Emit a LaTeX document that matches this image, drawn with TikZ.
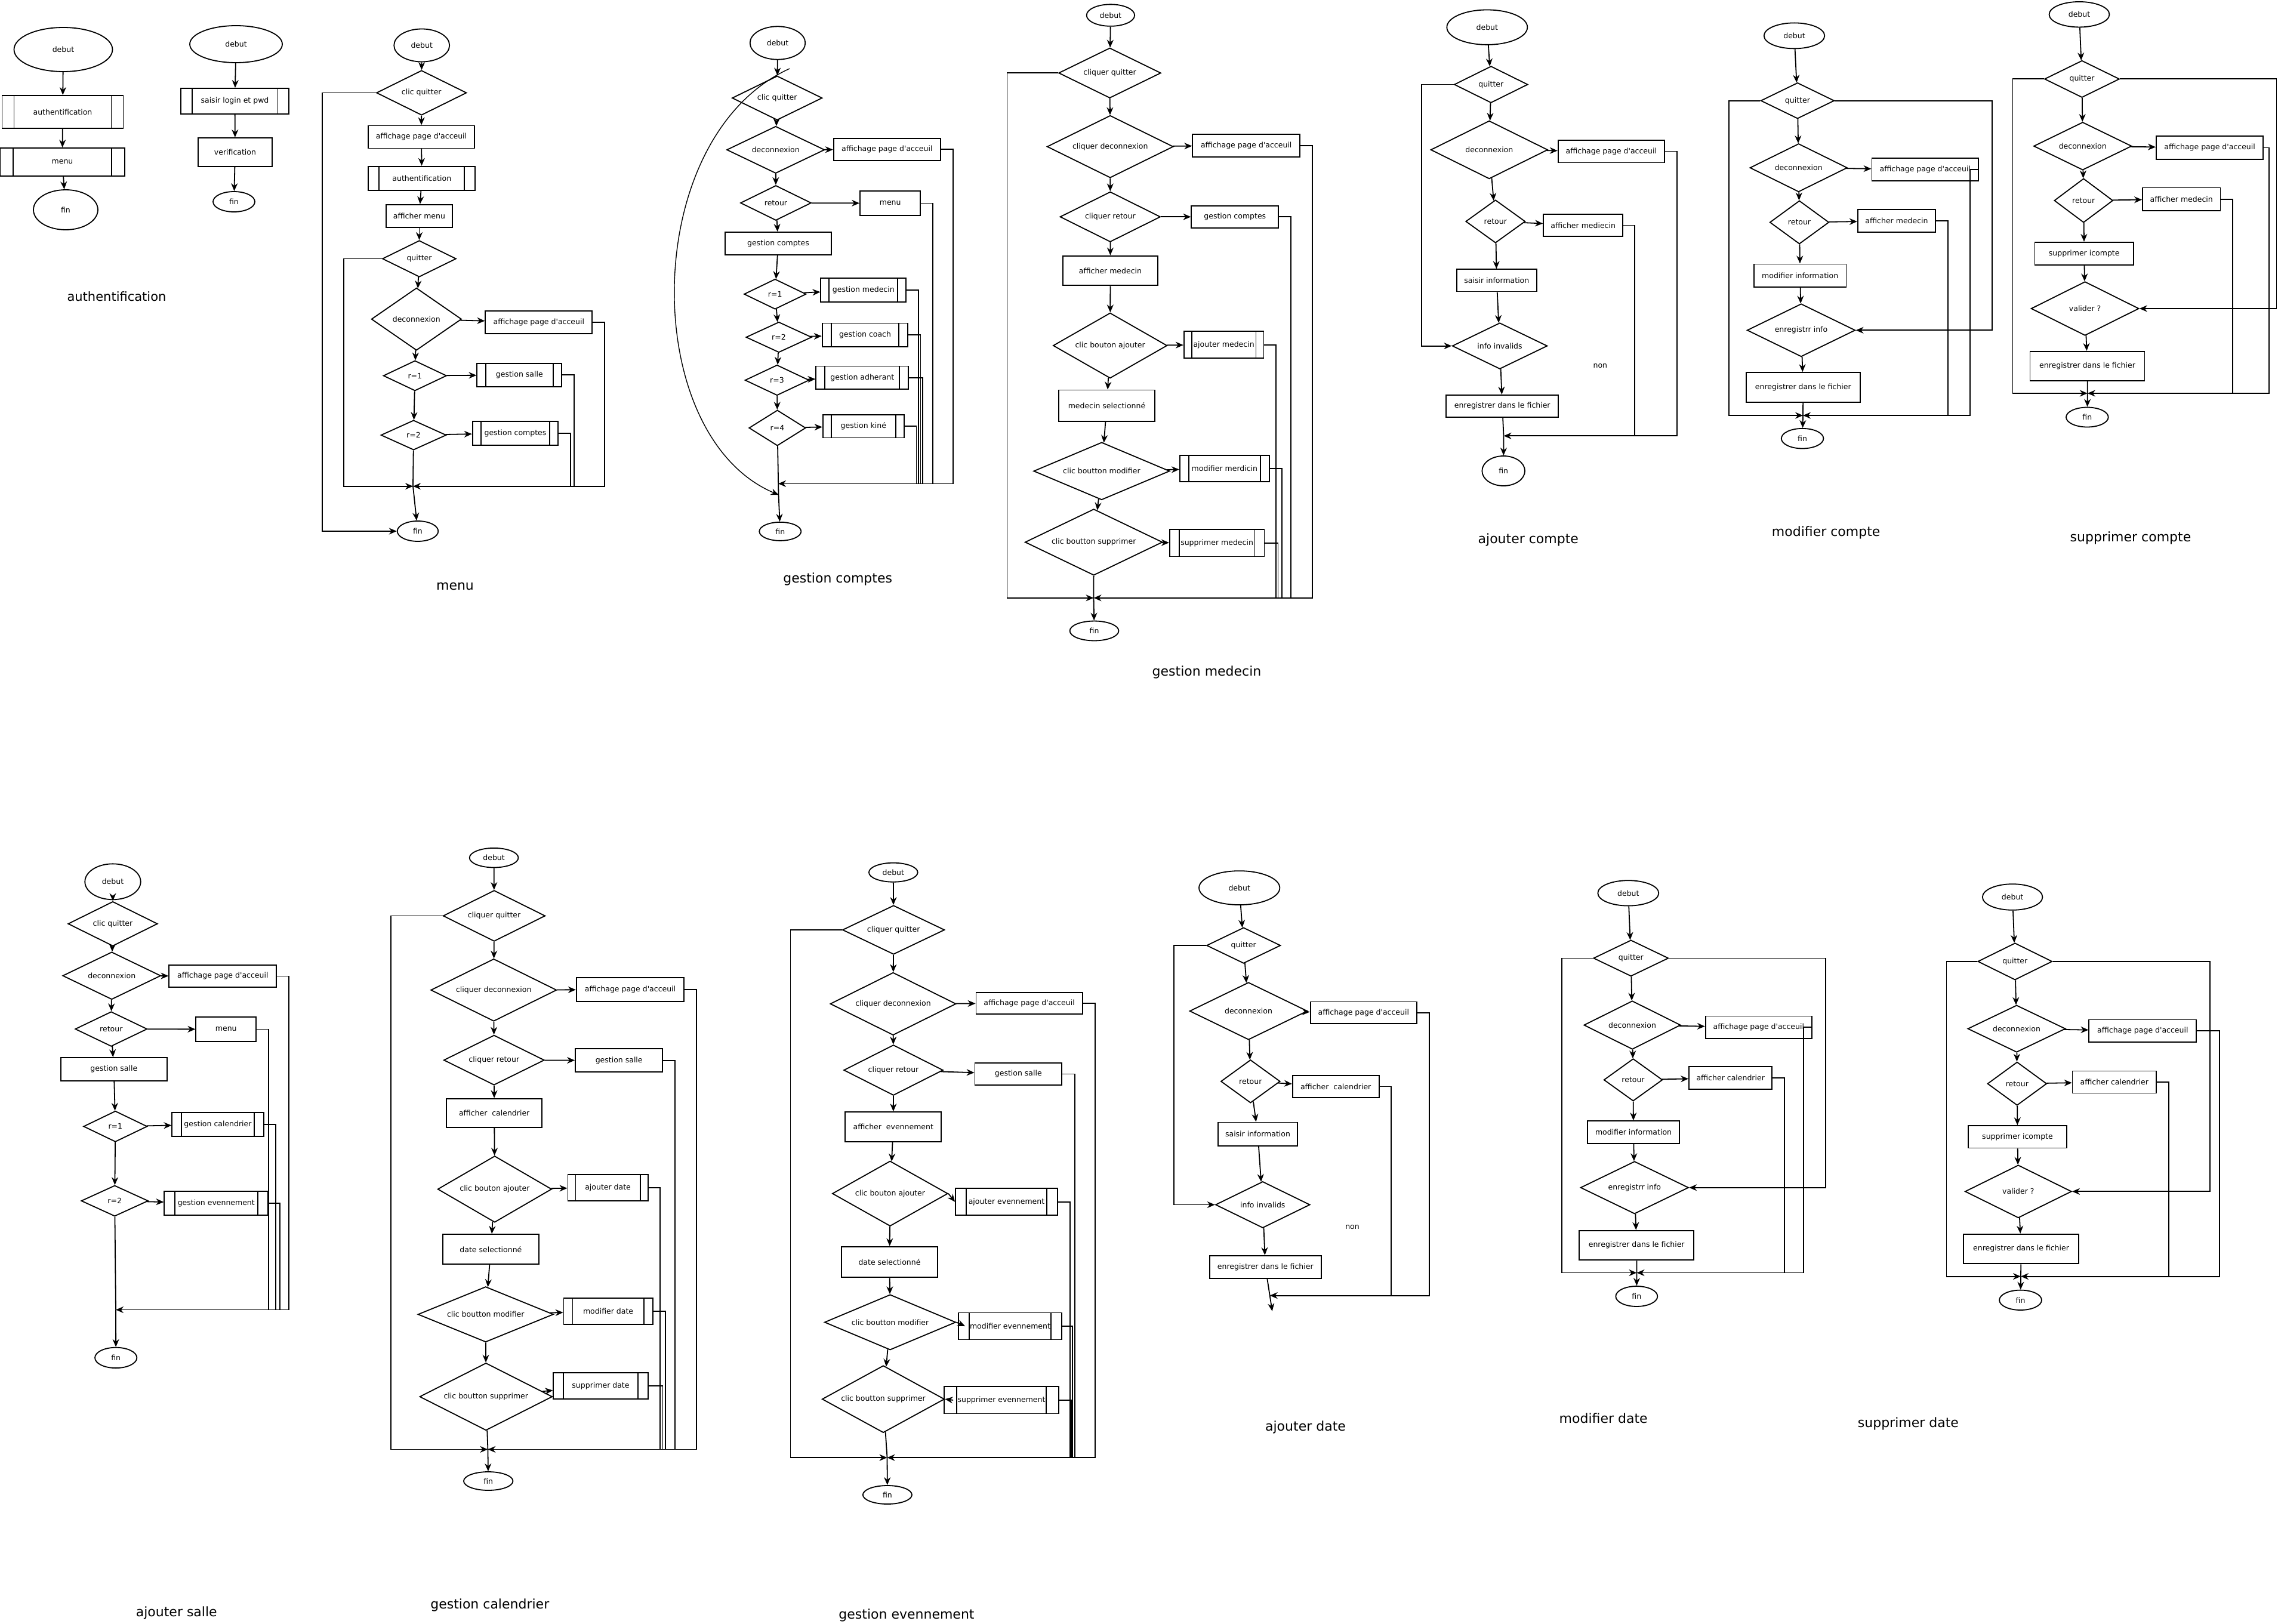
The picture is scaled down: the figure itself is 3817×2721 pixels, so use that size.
\documentclass[tikz,border=0pt]{standalone}
\usepackage{fontspec}
\setmainfont{DejaVu Sans}
\usetikzlibrary{shapes.geometric,arrows.meta}
\newcommand\apos{\XeTeXglyph\XeTeXcharglyph"0027\relax}
\tikzset{
  lw/.style={line width=1.8pt},
  ln/.style={lw},
  arr/.style={lw,-{Stealth[length=13pt,width=11pt]}},
  E/.style 2 args={ellipse,draw,lw,minimum width=#1pt,minimum height=#2pt,inner sep=0pt},
  B/.style 2 args={rectangle,draw,lw,minimum width=#1pt,minimum height=#2pt,inner sep=0pt},
  D/.style 2 args={diamond,draw,lw,minimum width=#1pt,minimum height=#2pt,inner sep=0pt,shape aspect=3},
  S/.style n args={3}{B={#1}{#2},path picture={
     \draw[lw] ([xshift=#3pt]path picture bounding box.north west) -- ([xshift=#3pt]path picture bounding box.south west);
     \draw[lw] ([xshift=-#3pt]path picture bounding box.north east) -- ([xshift=-#3pt]path picture bounding box.south east);}},
  T/.style={font=\fontsize{22}{26}\selectfont,inner sep=0pt},
  L/.style={inner sep=0pt}
}
\begin{document}
\begin{tikzpicture}[x=1pt,y=-1pt,every node/.style={font=\fontsize{12.5}{15}\selectfont}]
\fill[white] (0,0) rectangle (3817,2721);
\useasboundingbox (0,0) rectangle (3817,2721);

% ===== authentification 1 =====
\node[E={165}{74}] (a1d) at (106,83) {debut};
\node[S={203}{55}{20}] (a1a) at (105,187.5) {authentification};
\node[S={209}{47}{22}] (a1m) at (104.5,271.5) {menu};
\node[E={108}{67}] (a1f) at (110,351.5) {fin};
\draw[arr] (a1d) -- (a1a);
\draw[arr] (a1a) -- (a1m);
\draw[arr] (a1m) -- (a1f);
\node[T,font=\fontsize{21}{25}\selectfont] (a1t) at (195.5,497) {authentification};

% ===== authentification 2 =====
\node[E={155}{62}] (a2d) at (395.5,74) {debut};
\node[S={181}{43}{18.6}] (a2s) at (393.5,169.5) {saisir login et pwd};
\node[B={124}{48}] (a2v) at (394,255) {verification};
\node[E={70}{34}] (a2f) at (392,338) {fin};
\draw[arr] (a2d) -- (a2s);
\draw[arr] (a2s) -- (a2v);
\draw[arr] (a2v) -- (a2f);

% ===== menu =====
\node[E={93}{55}] (m-d) at (706.7,76) {debut};
\node[D={151}{75}] (m-cq) at (706.3,155.5) {clic quitter};
\node[B={178.6}{38}] (m-af) at (706,229.5) {affichage page d\apos acceuil};
\node[S={179}{40}{18}] (m-au) at (706.8,298.7) {authentification};
\node[B={111.6}{38}] (m-am) at (702.5,361.8) {afficher menu};
\node[D={123.6}{61}] (m-q) at (702.5,433.5) {quitter};
\node[D={151}{104.6}] (m-dc) at (697.8,534.7) {deconnexion};
\node[B={179}{38}] (m-af2) at (902.8,540) {affichage page d\apos acceuil};
\node[D={106}{50.5}] (m-r1) at (695.3,629.5) {r=1};
\node[S={142}{39.4}{14.7}] (m-gs) at (870.3,628.3) {gestion salle};
\node[D={109.4}{49.8}] (m-r2) at (693,729) {r=2};
\node[S={143.6}{40}{14.3}] (m-gc) at (863.5,725.8) {gestion comptes};
\coordinate (m-mg) at (692,814.7);
\node[E={68.6}{34}] (m-f) at (700,890) {fin};
\draw[arr] (m-d) -- (m-cq);
\draw[arr] (m-cq) -- (m-af);
\draw[arr] (m-af) -- (m-au);
\draw[arr] (m-au) -- (m-am);
\draw[arr] (m-am) -- (m-q);
\draw[arr] (m-q) -- (m-dc);
\draw[arr] (m-dc) -- (m-af2);
\draw[arr] (m-dc) -- (m-r1);
\draw[arr] (m-r1) -- (m-gs);
\draw[arr] (m-r1) -- (m-r2);
\draw[arr] (m-r2) -- (m-gc);
\draw[ln] (m-r2) -- (m-mg);
\draw[arr] (m-mg) -- (m-f);
\draw[arr] (m-q.west) -| (575.7,814.7) -- (m-mg);
\draw[arr] (m-af2.east) -| (1012.7,814.7) -- (m-mg);
\draw[ln] (m-gs.east) -| (961.7,814.7);
\draw[ln] (m-gc.east) -| (955.7,814.7);
\draw[arr] (m-cq.west) -| (540,890) -- (m-f.west);
\node[T] (m-t) at (762.5,982) {menu};

% ===== gestion comptes =====
\node[E={92.6}{55.4}] (gc-d) at (1303,72) {debut};
\node[D={151}{74}] (gc-cq) at (1302.2,164.2) {clic quitter};
\node[D={164}{78.8}] (gc-dc) at (1299.7,251) {deconnexion};
\node[B={179.3}{37}] (gc-af) at (1486.3,250.4) {affichage page d\apos acceuil};
\node[D={118.6}{58.5}] (gc-rt) at (1300,340) {retour};
\node[B={101.3}{41}] (gc-mn) at (1491.7,340.5) {menu};
\node[B={178.6}{38}] (gc-gc) at (1304,408) {gestion comptes};
\node[D={104}{50.5}] (gc-r1) at (1298.7,492.8) {r=1};
\node[S={143}{40}{14}] (gc-gm) at (1446.8,485.8) {gestion medecin};
\node[D={110}{51}] (gc-r2) at (1305,565) {r=2};
\node[S={143.6}{39.4}{15}] (gc-co) at (1449.5,561.2) {gestion coach};
\node[D={107.4}{51}] (gc-r3) at (1302,637) {r=3};
\node[S={155}{38.8}{15}] (gc-ad) at (1444.8,632.8) {gestion adherant};
\node[D={95}{59.7}] (gc-r4) at (1302.5,717) {r=4};
\node[S={136.3}{38.8}{14}] (gc-ki) at (1446.8,714) {gestion kiné};
\coordinate (gc-mg) at (1304,810.4);
\coordinate (gc-ce) at (1304.5,829);
\coordinate (gc-cs) at (1323,115);
\node[E={70}{31}] (gc-f) at (1307.3,890.4) {fin};
\draw[arr] (gc-d) -- (gc-cq);
\draw[arr] (gc-cq) -- (gc-dc);
\draw[arr] (gc-dc) -- (gc-af);
\draw[arr] (gc-dc) -- (gc-rt);
\draw[arr] (gc-rt) -- (gc-mn);
\draw[arr] (gc-rt) -- (gc-gc);
\draw[arr] (gc-gc) -- (gc-r1);
\draw[arr] (gc-r1) -- (gc-gm);
\draw[arr] (gc-r1) -- (gc-r2);
\draw[arr] (gc-r2) -- (gc-co);
\draw[arr] (gc-r2) -- (gc-r3);
\draw[arr] (gc-r3) -- (gc-ad);
\draw[arr] (gc-r3) -- (gc-r4);
\draw[arr] (gc-r4) -- (gc-ki);
\draw[ln] (gc-r4) -- (gc-ce);
\draw[arr] (gc-ce) -- (gc-f);
\draw[arr,line width=1.4pt] (gc-cs) .. controls (1070,230) and (1070,730) .. (gc-ce);
\draw[arr] (gc-af.east) -| (1597.3,810.4) -- (gc-mg);
\draw[ln] (gc-mn.east) -| (1562.7,810.4);
\draw[ln] (gc-gm.east) -| (1539,810.4);
\draw[ln] (gc-co.east) -| (1542.5,810.4);
\draw[ln] (gc-ad.east) -| (1546,810.4);
\draw[ln] (gc-ki.east) -| (1535.5,810.4);
\node[T] (gc-t) at (1403.7,970.5) {gestion comptes};

% ===== gestion medecin =====
\node[E={80.5}{36.5}] (gm-d) at (1860.9,25.6) {debut};
\node[D={171.3}{84}] (gm-cq) at (1859.5,122.3) {cliquer quitter};
\node[D={211.5}{104.4}] (gm-dc) at (1860.2,245.7) {cliquer deconnexion};
\node[B={179.9}{38}] (gm-af) at (2088.2,243.9) {affichage page d\apos acceuil};
\node[D={168.2}{84}] (gm-rt) at (1860.3,363.3) {cliquer retour};
\node[B={146}{37.2}] (gm-gc) at (2069.3,363.3) {gestion comptes};
\node[B={159.6}{49.7}] (gm-am) at (1860.5,453.5) {afficher medecin};
\node[D={191}{109.5}] (gm-aj) at (1860.1,579) {clic bouton ajouter};
\node[S={133.7}{45.2}{13}] (gm-am2) at (2050.6,577.6) {ajouter medecin};
\node[B={161.4}{52.6}] (gm-ms) at (1854.5,679.8) {medecin selectionné};
\node[D={227.9}{96.4}] (gm-mo) at (1845.9,789.3) {clic boutton modifier};
\node[S={150.2}{43.8}{15}] (gm-mm) at (2051.9,785) {modifier merdicin};
\node[D={230.3}{111}] (gm-su) at (1832.7,908.4) {clic boutton supprimer};
\node[S={158.6}{45.3}{16}] (gm-sm) at (2039.1,909.8) {supprimer medecin};
\coordinate (gm-mg) at (1832.5,1001.8);
\node[E={81.9}{32.9}] (gm-f) at (1833.5,1057) {fin};
\draw[arr] (gm-d) -- (gm-cq);
\draw[arr] (gm-cq) -- (gm-dc);
\draw[arr] (gm-dc) -- (gm-af);
\draw[arr] (gm-dc) -- (gm-rt);
\draw[arr] (gm-rt) -- (gm-gc);
\draw[arr] (gm-rt) -- (gm-am);
\draw[arr] (gm-am) -- (gm-aj);
\draw[arr] (gm-aj) -- (gm-am2);
\draw[arr] (gm-aj) -- (gm-ms);
\draw[arr] (gm-ms) -- (gm-mo);
\draw[arr] (gm-mo) -- (gm-mm);
\draw[arr] (gm-mo) -- (gm-su);
\draw[arr] (gm-su) -- (gm-sm);
\draw[ln] (gm-su) -- (gm-mg);
\draw[arr] (gm-mg) -- (gm-f);
\draw[arr] (gm-cq.west) -| (1687.5,1001.8) -- (gm-mg);
\draw[arr] (gm-af.east) -| (2198.6,1001.8) -- (gm-mg);
\draw[ln] (gm-gc.east) -| (2162.8,1001.8);
\draw[ln] (gm-am2.east) -| (2138.2,1001.8);
\draw[ln] (gm-mm.east) -| (2148.1,1001.8);
\draw[ln] (gm-sm.east) -| (2141.5,1001.8);
\node[T] (gm-t) at (2022,1126) {gestion medecin};

% ===== ajouter compte =====
\node[E={135}{58.4}] (ac-d) at (2491.8,45.7) {debut};
\node[D={123.3}{61.4}] (ac-q) at (2498.3,141.6) {quitter};
\node[D={196}{97.3}] (ac-dc) at (2495.3,251) {deconnexion};
\node[B={178.3}{37.8}] (ac-af) at (2699.8,253.6) {affichage page d\apos acceuil};
\node[D={99.7}{72}] (ac-rt) at (2505.8,371) {retour};
\node[B={133.3}{37.7}] (ac-am) at (2652.7,377.5) {afficher mediecin};
\node[B={134.3}{37.2}] (ac-si) at (2507.8,469.9) {saisir information};
\node[D={159.3}{77.3}] (ac-ii) at (2513,579.6) {info invalids};
\node[B={187.7}{37.2}] (ac-en) at (2517.2,680.4) {enregistrer dans le fichier};
\coordinate (ac-mg) at (2519.5,730.3);
\node[E={71.7}{50}] (ac-f) at (2519.2,789) {fin};
\node[L] (ac-non) at (2681.3,613.5) {non};
\draw[arr] (ac-d) -- (ac-q);
\draw[arr] (ac-q) -- (ac-dc);
\draw[arr] (ac-dc) -- (ac-af);
\draw[arr] (ac-dc) -- (ac-rt);
\draw[arr] (ac-rt) -- (ac-am);
\draw[arr] (ac-rt) -- (ac-si);
\draw[arr] (ac-si) -- (ac-ii);
\draw[arr] (ac-ii) -- (ac-en);
\draw[ln] (ac-en) -- (ac-mg);
\draw[arr] (ac-mg) -- (ac-f);
\draw[arr] (ac-q.west) -| (2381.7,579.6) -- (ac-ii.west);
\draw[arr] (ac-af.east) -| (2810,730.3) -- (ac-mg);
\draw[ln] (ac-am.east) -| (2739.3,730.3);
\node[T] (ac-t) at (2560.8,904) {ajouter compte};

% ===== modifier compte =====
\node[E={101.5}{43}] (mc-d) at (3006.5,59.9) {debut};
\node[D={123.2}{60.2}] (mc-q) at (3011.9,168.7) {quitter};
\node[D={163.1}{80.8}] (mc-dc) at (3013.7,281.1) {deconnexion};
\node[B={178.7}{38.3}] (mc-af) at (3225.8,284) {affichage page d\apos acceuil};
\node[D={99.1}{72.6}] (mc-rt) at (3015,372.5) {retour};
\node[B={130.5}{38.3}] (mc-am) at (3178,370.2) {afficher medecin};
\node[B={154.6}{38.4}] (mc-mi) at (3016.2,461.6) {modifier information};
\node[D={181.2}{88.6}] (mc-ei) at (3018,553.3) {enregistrr info};
\node[B={191.4}{50.2}] (mc-en) at (3021.3,649.2) {enregistrer dans le fichier};
\coordinate (mc-mg) at (3021,696.1);
\node[E={70.6}{33.6}] (mc-f) at (3020.1,734.7) {fin};
\draw[arr] (mc-d) -- (mc-q);
\draw[arr] (mc-q) -- (mc-dc);
\draw[arr] (mc-dc) -- (mc-af);
\draw[arr] (mc-dc) -- (mc-rt);
\draw[arr] (mc-rt) -- (mc-am);
\draw[arr] (mc-rt) -- (mc-mi);
\draw[arr] (mc-mi) -- (mc-ei);
\draw[arr] (mc-ei) -- (mc-en);
\draw[ln] (mc-en) -- (mc-mg);
\draw[arr] (mc-mg) -- (mc-f);
\draw[arr] (mc-q.west) -| (2896.6,696.1) -- (mc-mg);
\draw[arr] (mc-q.east) -| (3338.1,553.3) -- (mc-ei.east);
\draw[arr] (mc-af.east) -- ++(-15,0) |- (mc-mg);
\draw[ln] (mc-am.east) -| (3263.8,696.1);
\node[T] (mc-t) at (3059.7,892) {modifier compte};

% ===== supprimer compte =====
\node[E={100.9}{42.5}] (sc-d) at (3484,24.2) {debut};
\node[D={125.6}{61.9}] (sc-q) at (3488.5,132.4) {quitter};
\node[D={164.2}{80.2}] (sc-dc) at (3489.7,244.8) {deconnexion};
\node[B={179.4}{38.3}] (sc-af) at (3702.6,247.5) {affichage page d\apos acceuil};
\node[D={98.4}{73.8}] (sc-rt) at (3491.2,336) {retour};
\node[B={130.4}{38.4}] (sc-am) at (3655.2,333.6) {afficher medecin};
\node[B={165.5}{38.3}] (sc-si) at (3492.2,425) {supprimer icompte};
\node[D={180.6}{90.3}] (sc-va) at (3493.6,517) {valider ?};
\node[B={192}{49.6}] (sc-en) at (3497.5,613.5) {enregistrer dans le fichier};
\coordinate (sc-mg) at (3497.8,659);
\node[E={70.7}{33}] (sc-f) at (3497.3,699) {fin};
\draw[arr] (sc-d) -- (sc-q);
\draw[arr] (sc-q) -- (sc-dc);
\draw[arr] (sc-dc) -- (sc-af);
\draw[arr] (sc-dc) -- (sc-rt);
\draw[arr] (sc-rt) -- (sc-am);
\draw[arr] (sc-rt) -- (sc-si);
\draw[arr] (sc-si) -- (sc-va);
\draw[arr] (sc-va) -- (sc-en);
\draw[ln] (sc-en) -- (sc-mg);
\draw[arr] (sc-mg) -- (sc-f);
\draw[arr] (sc-q.west) -| (3372.5,659) -- (sc-mg);
\draw[arr] (sc-q.east) -| (3814.5,517) -- (sc-va.east);
\draw[arr] (sc-af.east) -| (3802,659) -- (sc-mg);
\draw[ln] (sc-am.east) -| (3741,659);
\node[T] (sc-t) at (3570,901) {supprimer compte};

% ===== ajouter salle =====
\node[E={93.4}{59.9}] (as-d) at (189,1477.3) {debut};
\node[D={150}{74.6}] (as-cq) at (189,1547.8) {clic quitter};
\node[D={164.3}{79.5}] (as-dc) at (187.2,1634.8) {deconnexion};
\node[B={180}{36.9}] (as-af) at (373.3,1635.5) {affichage page d\apos acceuil};
\node[D={120.7}{58.2}] (as-rt) at (186.3,1724.1) {retour};
\node[B={101}{41}] (as-mn) at (378.8,1724.5) {menu};
\node[B={178.3}{38.6}] (as-gs) at (190.8,1791.4) {gestion salle};
\node[D={106.7}{51.7}] (as-r1) at (193.3,1887.3) {r=1};
\node[S={153.4}{40.2}{15.7}] (as-gca) at (365,1884.1) {gestion calendrier};
\node[D={112.3}{51.6}] (as-r2) at (192.2,2012) {r=2};
\node[S={174}{40.2}{17.3}] (as-gev) at (362.3,2016.1) {gestion evennement};
\coordinate (as-mg) at (194,2194.5);
\node[E={70.3}{34.4}] (as-f) at (194.2,2274.9) {fin};
\draw[arr] (as-d) -- (as-cq);
\draw[arr] (as-cq) -- (as-dc);
\draw[arr] (as-dc) -- (as-af);
\draw[arr] (as-dc) -- (as-rt);
\draw[arr] (as-rt) -- (as-mn);
\draw[arr] (as-rt) -- (as-gs);
\draw[arr] (as-gs) -- (as-r1);
\draw[arr] (as-r1) -- (as-gca);
\draw[arr] (as-r1) -- (as-r2);
\draw[arr] (as-r2) -- (as-gev);
\draw[ln] (as-r2) -- (as-mg);
\draw[arr] (as-mg) -- (as-f);
\draw[arr] (as-af.east) -| (484,2194.5) -- (as-mg);
\draw[ln] (as-mn.east) -| (450,2194.5);
\draw[ln] (as-gca.east) -| (461.7,2194.5);
\draw[ln] (as-gev.east) -| (469,2194.5);
\node[T] (as-t) at (295.8,2702) {ajouter salle};

% ===== gestion calendrier =====
\node[E={81.8}{32.6}] (gl-d) at (827.6,1437.2) {debut};
\node[D={171.2}{85.3}] (gl-cq) at (828,1534.5) {cliquer quitter};
\node[D={210.8}{104.5}] (gl-dc) at (827.3,1658.8) {cliquer deconnexion};
\node[B={180.5}{39.3}] (gl-af) at (1056,1658) {affichage page d\apos acceuil};
\node[D={168.6}{83.6}] (gl-rt) at (827.8,1776.2) {cliquer retour};
\node[B={146.3}{39.3}] (gl-gs) at (1037.2,1776.7) {gestion salle};
\node[B={160}{48.5}] (gl-ac) at (828.2,1864.9) {afficher\ \ calendrier};
\node[D={191}{111.2}] (gl-aj) at (828.9,1992.4) {clic bouton ajouter};
\node[S={134.4}{44.3}{13}] (gl-ad) at (1018.6,1989.9) {ajouter date};
\node[B={161.4}{50.2}] (gl-ds) at (822.4,2093.1) {date selectionné};
\node[D={227}{92.8}] (gl-mo) at (813.8,2202.2) {clic boutton modifier};
\node[S={149.2}{44.3}{15}] (gl-md) at (1019.1,2197.2) {modifier date};
\node[D={222.3}{112.9}] (gl-su) at (814.3,2340.1) {clic boutton supprimer};
\node[S={158.6}{43.5}{17}] (gl-sd) at (1006.5,2322.1) {supprimer date};
\coordinate (gl-mg) at (817.4,2428.4);
\node[E={82.5}{31}] (gl-f) at (818.2,2481.5) {fin};
\draw[arr] (gl-d) -- (gl-cq);
\draw[arr] (gl-cq) -- (gl-dc);
\draw[arr] (gl-dc) -- (gl-af);
\draw[arr] (gl-dc) -- (gl-rt);
\draw[arr] (gl-rt) -- (gl-gs);
\draw[arr] (gl-rt) -- (gl-ac);
\draw[arr] (gl-ac) -- (gl-aj);
\draw[arr] (gl-aj) -- (gl-ad);
\draw[arr] (gl-aj) -- (gl-ds);
\draw[arr] (gl-ds) -- (gl-mo);
\draw[arr] (gl-mo) -- (gl-md);
\draw[arr] (gl-mo) -- (gl-su);
\draw[arr] (gl-su) -- (gl-sd);
\draw[ln] (gl-su) -- (gl-mg);
\draw[arr] (gl-mg) -- (gl-f);
\draw[arr] (gl-cq.west) -| (655.2,2428.4) -- (gl-mg);
\draw[arr] (gl-af.east) -| (1166.8,2428.4) -- (gl-mg);
\draw[ln] (gl-gs.east) -| (1130.8,2428.4);
\draw[ln] (gl-ad.east) -| (1106.3,2428.4);
\draw[ln] (gl-md.east) -| (1115.3,2428.4);
\draw[ln] (gl-sd.east) -| (1110.5,2428.4);
\node[T] (gl-t) at (820.8,2689) {gestion calendrier};

% ===== gestion evennement =====
\node[E={81.8}{32}] (ge-d) at (1496.8,1461.7) {debut};
\node[D={171.1}{82}] (ge-cq) at (1497.2,1558) {cliquer quitter};
\node[D={210.7}{105}] (ge-dc) at (1496.5,1681.9) {cliquer deconnexion};
\node[B={178.3}{36.1}] (ge-af) at (1724.6,1681) {affichage page d\apos acceuil};
\node[D={166.4}{84.5}] (ge-rt) at (1497,1793) {cliquer retour};
\node[B={145.6}{36.9}] (ge-gs) at (1706.3,1799.5) {gestion salle};
\node[B={161}{50.1}] (ge-ae) at (1496.8,1888.1) {afficher\ \ evennement};
\node[D={193.5}{109.1}] (ge-aj) at (1491.4,1999.8) {clic bouton ajouter};
\node[S={170.8}{45.1}{17.7}] (ge-ajv) at (1686.5,2013.7) {ajouter evennement};
\node[B={161.4}{51.7}] (ge-ds) at (1490.5,2114.5) {date selectionné};
\node[D={220}{92.7}] (ge-mo) at (1491.5,2215.4) {clic boutton modifier};
\node[S={173}{45.1}{18}] (ge-mv) at (1692.5,2222) {modifier evennement};
\node[D={205}{112.4}] (ge-su) at (1480,2344.2) {clic boutton supprimer};
\node[S={192}{45.1}{21}] (ge-sv) at (1678,2345.9) {supprimer evennement};
\coordinate (ge-mg) at (1486.5,2442.2);
\node[E={82.2}{31}] (ge-f) at (1486.9,2504.5) {fin};
\draw[arr] (ge-d) -- (ge-cq);
\draw[arr] (ge-cq) -- (ge-dc);
\draw[arr] (ge-dc) -- (ge-af);
\draw[arr] (ge-dc) -- (ge-rt);
\draw[arr] (ge-rt) -- (ge-gs);
\draw[arr] (ge-rt) -- (ge-ae);
\draw[arr] (ge-ae) -- (ge-aj);
\draw[arr] (ge-aj.east) -- (ge-ajv.west);
\draw[arr] (ge-aj) -- (ge-ds);
\draw[arr] (ge-ds) -- (ge-mo);
\draw[arr] (ge-mo.east) -- ([xshift=12pt]ge-mv.west);
\draw[arr] (ge-mo) -- (ge-su);
\draw[arr] ([xshift=16pt]ge-sv.west) -- (ge-su.east);
\draw[ln] (ge-su) -- (ge-mg);
\draw[arr] (ge-mg) -- (ge-f);
\draw[arr] (ge-cq.west) -| (1324.4,2442.2) -- (ge-mg);
\draw[arr] (ge-af.east) -| (1835,2442.2) -- (ge-mg);
\draw[ln] (ge-gs.east) -| (1801,2442.2);
\draw[ln] (ge-ajv.east) -| (1792.8,2442.2);
\draw[ln] (ge-mv.east) -| (1797,2442.2);
\draw[ln] (ge-sv.east) -| (1795,2442.2);
\node[T] (ge-t) at (1519,2706) {gestion evennement};

% ===== ajouter date =====
\node[E={135.3}{56.9}] (ad-d) at (2076.7,1487.6) {debut};
\node[D={124}{60}] (ad-q) at (2083.7,1584.1) {quitter};
\node[D={197.4}{96.1}] (ad-dc) at (2092,1694) {deconnexion};
\node[B={178.3}{36.7}] (ad-af) at (2284.8,1696.8) {affichage page d\apos acceuil};
\node[D={99.3}{72.2}] (ad-rt) at (2095.3,1811.8) {retour};
\node[B={145}{36.8}] (ad-ac) at (2238.2,1820.4) {afficher\ \ calendrier};
\node[B={133.6}{39.2}] (ad-si) at (2107.5,1900) {saisir information};
\node[D={158.3}{77.7}] (ad-ii) at (2115.8,2018.5) {info invalids};
\node[B={187.3}{38}] (ad-en) at (2120.3,2122.8) {enregistrer dans le fichier};
\coordinate (ad-mg) at (2127.7,2170.6);
\coordinate (ad-end) at (2131.7,2196.9);
\node[L] (ad-non) at (2266,2056) {non};
\draw[arr] (ad-d) -- (ad-q);
\draw[arr] (ad-q) -- (ad-dc);
\draw[arr] (ad-dc) -- (ad-af);
\draw[arr] (ad-dc) -- (ad-rt);
\draw[arr] (ad-rt) -- (ad-ac);
\draw[arr] (ad-rt) -- (ad-si);
\draw[arr] (ad-si) -- (ad-ii);
\draw[arr] (ad-ii) -- (ad-en);
\draw[arr] (ad-en) -- (ad-end);
\draw[arr] (ad-q.west) -| (1966.7,2018.5) -- (ad-ii.west);
\draw[arr] (ad-af.east) -| (2395,2170.6) -- (ad-mg);
\draw[ln] (ad-ac.east) -| (2331,2170.6);
\node[T] (ad-t) at (2187.5,2391) {ajouter date};

% ===== modifier date =====
\node[E={102}{42.4}] (md-d) at (2728.3,1496.4) {debut};
\node[D={125.7}{60.6}] (md-q) at (2732.8,1605.4) {quitter};
\node[D={162}{81.2}] (md-dc) at (2735,1717.5) {deconnexion};
\node[B={178.3}{37.6}] (md-af) at (2946.8,1721.2) {affichage page d\apos acceuil};
\node[D={98.3}{70.9}] (md-rt) at (2736.5,1809.3) {retour};
\node[B={139.3}{37.6}] (md-ac) at (2899.7,1806) {afficher calendrier};
\node[B={154}{38.2}] (md-mi) at (2737,1897.2) {modifier information};
\node[D={181}{87.9}] (md-ei) at (2738.8,1989.8) {enregistrr info};
\node[B={192.3}{49.7}] (md-en) at (2742.2,2086.5) {enregistrer dans le fichier};
\coordinate (md-mg) at (2742.5,2132.5);
\node[E={70}{33.9}] (md-f) at (2742.3,2172) {fin};
\draw[arr] (md-d) -- (md-q);
\draw[arr] (md-q) -- (md-dc);
\draw[arr] (md-dc) -- (md-af);
\draw[arr] (md-dc) -- (md-rt);
\draw[arr] (md-rt) -- (md-ac);
\draw[arr] (md-rt) -- (md-mi);
\draw[arr] (md-mi) -- (md-ei);
\draw[arr] (md-ei) -- (md-en);
\draw[ln] (md-en) -- (md-mg);
\draw[arr] (md-mg) -- (md-f);
\draw[arr] (md-q.west) -| (2617.3,2132.5) -- (md-mg);
\draw[arr] (md-q.east) -| (3059.3,1989.8) -- (md-ei.east);
\draw[arr] (md-af.east) -- ++(-15,0) |- (md-mg);
\draw[ln] (md-ac.east) -| (2990,2132.5);
\node[T] (md-t) at (2686.7,2376) {modifier date};

% ===== supprimer date =====
\node[E={100.6}{43.6}] (sd-d) at (3372.1,1503) {debut};
\node[D={124.7}{61.8}] (sd-q) at (3376.3,1610.9) {quitter};
\node[D={163.7}{78.8}] (sd-dc) at (3379,1723.6) {deconnexion};
\node[B={179.9}{37.6}] (sd-af) at (3590.3,1727.2) {affichage page d\apos acceuil};
\node[D={99.3}{72.7}] (sd-rt) at (3379.8,1815.7) {retour};
\node[B={140.5}{36.9}] (sd-ac) at (3542.8,1813) {afficher calendrier};
\node[B={165.5}{37.5}] (sd-si) at (3380.5,1904.8) {supprimer icompte};
\node[D={178.5}{88.5}] (sd-va) at (3381.8,1996.3) {valider ?};
\node[B={192.4}{49.7}] (sd-en) at (3386.5,2092.5) {enregistrer dans le fichier};
\coordinate (sd-mg) at (3386,2138.6);
\node[E={70.9}{33.4}] (sd-f) at (3385.5,2178.3) {fin};
\draw[arr] (sd-d) -- (sd-q);
\draw[arr] (sd-q) -- (sd-dc);
\draw[arr] (sd-dc) -- (sd-af);
\draw[arr] (sd-dc) -- (sd-rt);
\draw[arr] (sd-rt) -- (sd-ac);
\draw[arr] (sd-rt) -- (sd-si);
\draw[arr] (sd-si) -- (sd-va);
\draw[arr] (sd-va) -- (sd-en);
\draw[ln] (sd-en) -- (sd-mg);
\draw[arr] (sd-mg) -- (sd-f);
\draw[arr] (sd-q.west) -| (3261.5,2138.6) -- (sd-mg);
\draw[arr] (sd-q.east) -| (3702.9,1996.3) -- (sd-va.east);
\draw[arr] (sd-af.east) -| (3719.1,2138.6) -- (sd-mg);
\draw[ln] (sd-ac.east) -| (3633.8,2138.6);
\node[T] (sd-t) at (3197.4,2385.5) {supprimer date};
\end{tikzpicture}
\end{document}
